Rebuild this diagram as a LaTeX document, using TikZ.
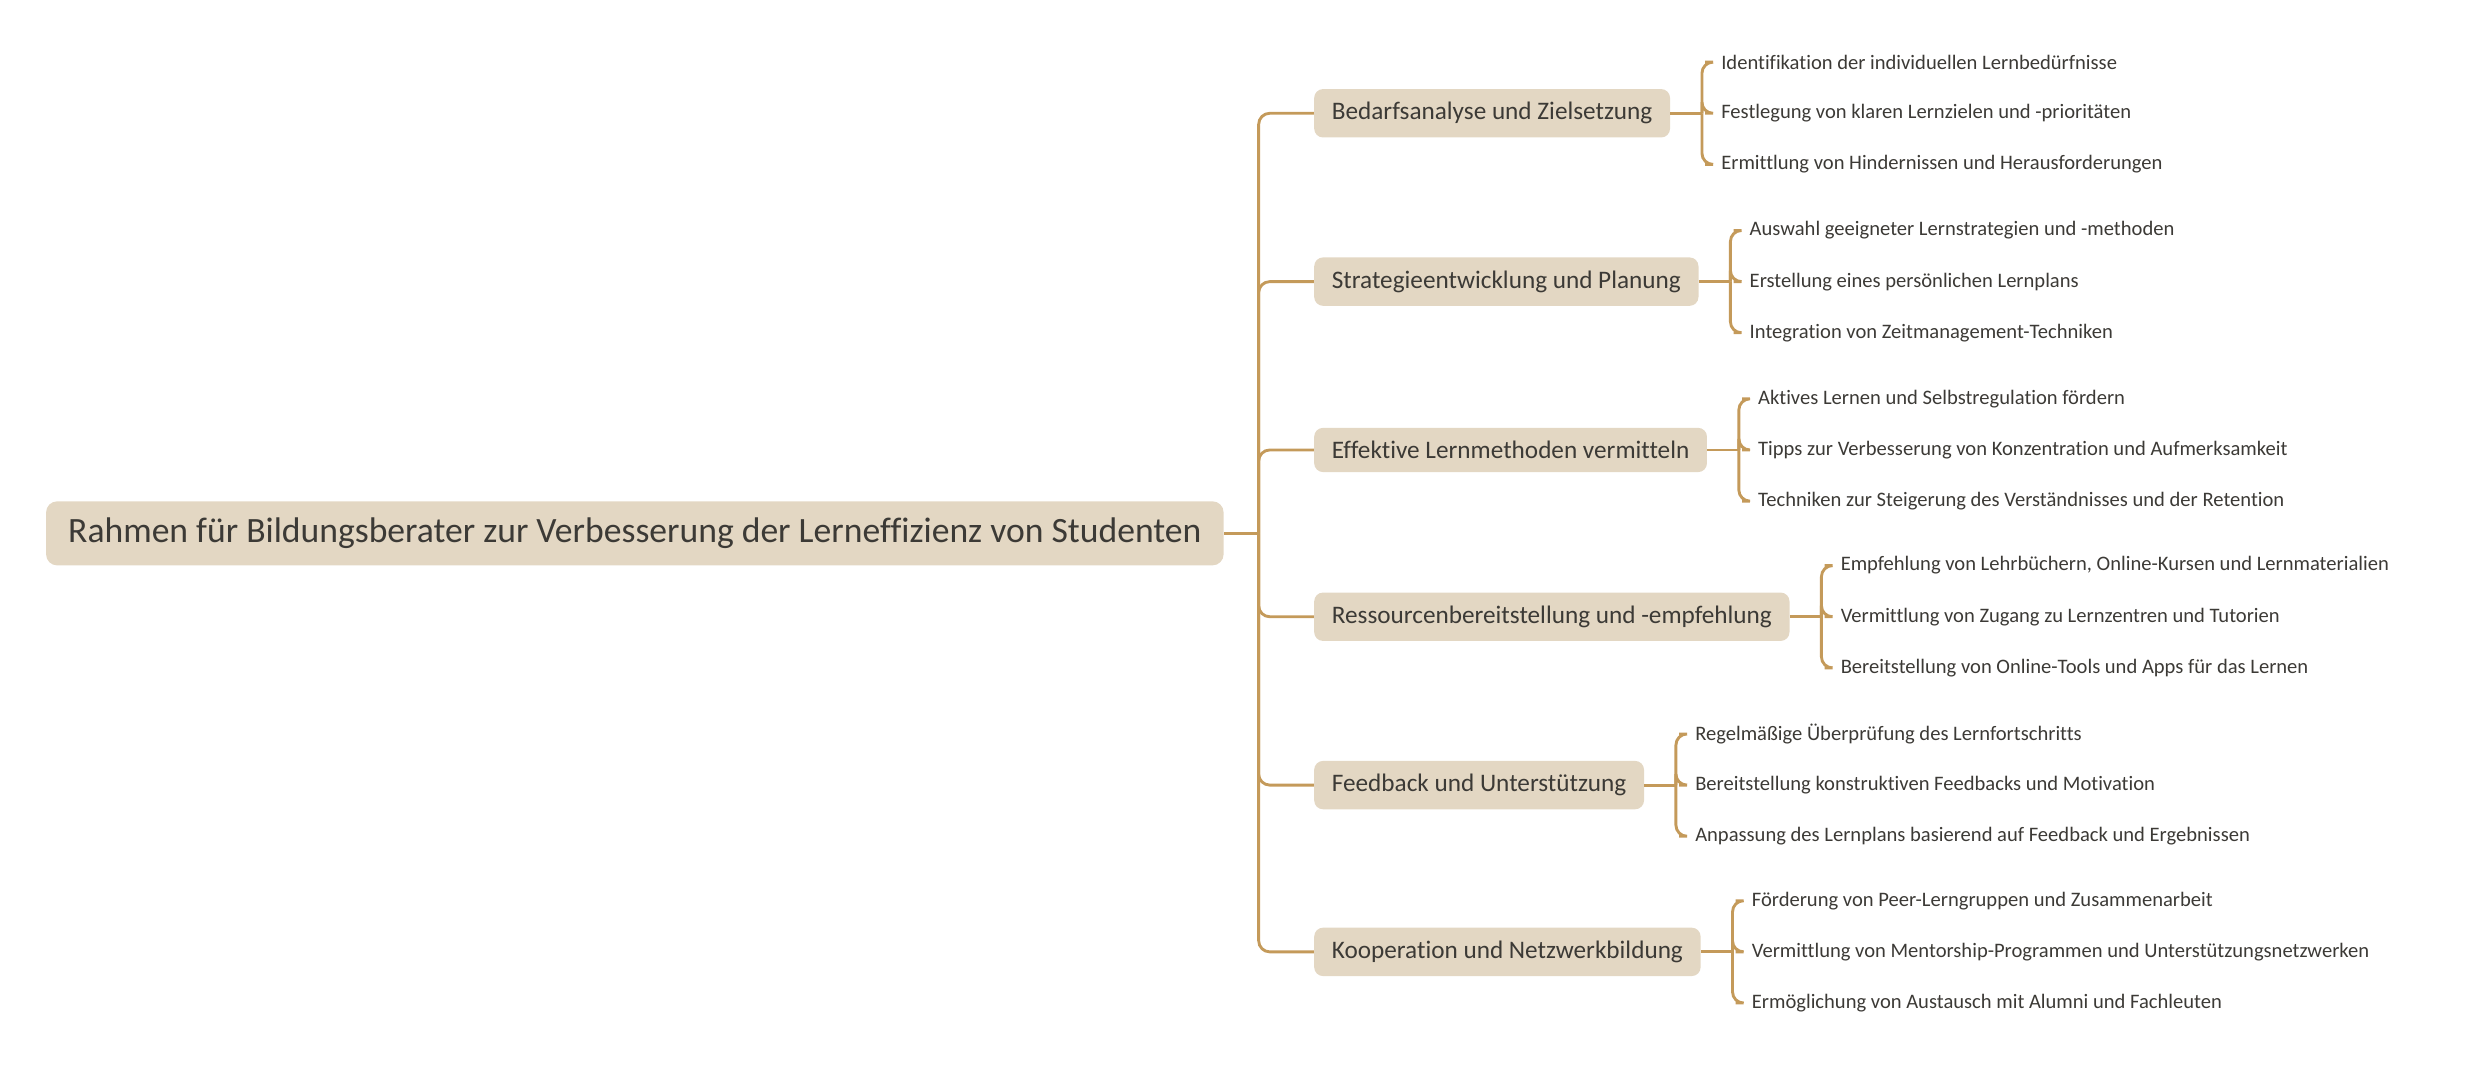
\documentclass[tikz,border=0pt]{standalone}
\usepackage{fontspec}
\setmainfont{Carlito}[Contextuals=NoAlternate,Ligatures=NoCommon]
\usetikzlibrary{positioning}
\definecolor{boxfill}{HTML}{E3D7C3}
\definecolor{linkcol}{HTML}{C49A5A}
\definecolor{txt}{HTML}{3C3A36}
\begin{document}
\begin{tikzpicture}
[x=0.025cm,y=-0.025cm,
 rootbox/.style={fill=boxfill,rounded corners=5pt,text=txt,inner xsep=10pt,inner ysep=7.5pt,font=\fontsize{16.1}{19}\selectfont},
 branch/.style={fill=boxfill,rounded corners=4pt,text=txt,inner xsep=8pt,inner ysep=6pt,anchor=west,font=\fontsize{11.4}{13}\selectfont},
 leaf/.style={text=txt,anchor=west,inner sep=0pt,font=\fontsize{9.3}{11}\selectfont},
 link/.style={draw=linkcol,line width=1.3pt,rounded corners=5pt}]
\useasboundingbox (0,0) rectangle (1568,689);

\node[rootbox,anchor=west] (root) at (29,339) {Rahmen für Bildungsberater zur Verbesserung der Lerneffizienz von Studenten};
\coordinate (hub) at (800,339);

\node[branch] (b1) at (835,72) {Bedarfsanalyse und Zielsetzung};
\node[branch] (b2) at (835,179) {Strategieentwicklung und Planung};
\node[branch] (b3) at (835,286) {Effektive Lernmethoden vermitteln};
\node[branch] (b4) at (835,392) {Ressourcenbereitstellung und -empfehlung};
\node[branch] (b5) at (835,499) {Feedback und Unterstützung};
\node[branch] (b6) at (835,605) {Kooperation und Netzwerkbildung};

\node[leaf] (l11) at ([xshift=32*0.025cm,yshift=32.5*0.025cm]b1.east) {Identifikation der individuellen Lernbedürfnisse};
\node[leaf] (l12) at ([xshift=32*0.025cm]b1.east) {Festlegung von klaren Lernzielen und -prioritäten};
\node[leaf] (l13) at ([xshift=32*0.025cm,yshift=-32.5*0.025cm]b1.east) {Ermittlung von Hindernissen und Herausforderungen};
\node[leaf] (l21) at ([xshift=32*0.025cm,yshift=32.5*0.025cm]b2.east) {Auswahl geeigneter Lernstrategien und -methoden};
\node[leaf] (l22) at ([xshift=32*0.025cm]b2.east) {Erstellung eines persönlichen Lernplans};
\node[leaf] (l23) at ([xshift=32*0.025cm,yshift=-32.5*0.025cm]b2.east) {Integration von Zeitmanagement-Techniken};
\node[leaf] (l31) at ([xshift=32*0.025cm,yshift=32.5*0.025cm]b3.east) {Aktives Lernen und Selbstregulation fördern};
\node[leaf] (l32) at ([xshift=32*0.025cm]b3.east) {Tipps zur Verbesserung von Konzentration und Aufmerksamkeit};
\node[leaf] (l33) at ([xshift=32*0.025cm,yshift=-32.5*0.025cm]b3.east) {Techniken zur Steigerung des Verständnisses und der Retention};
\node[leaf] (l41) at ([xshift=32*0.025cm,yshift=32.5*0.025cm]b4.east) {Empfehlung von Lehrbüchern, Online-Kursen und Lernmaterialien};
\node[leaf] (l42) at ([xshift=32*0.025cm]b4.east) {Vermittlung von Zugang zu Lernzentren und Tutorien};
\node[leaf] (l43) at ([xshift=32*0.025cm,yshift=-32.5*0.025cm]b4.east) {Bereitstellung von Online-Tools und Apps für das Lernen};
\node[leaf] (l51) at ([xshift=32*0.025cm,yshift=32.5*0.025cm]b5.east) {Regelmäßige Überprüfung des Lernfortschritts};
\node[leaf] (l52) at ([xshift=32*0.025cm]b5.east) {Bereitstellung konstruktiven Feedbacks und Motivation};
\node[leaf] (l53) at ([xshift=32*0.025cm,yshift=-32.5*0.025cm]b5.east) {Anpassung des Lernplans basierend auf Feedback und Ergebnissen};
\node[leaf] (l61) at ([xshift=32*0.025cm,yshift=32.5*0.025cm]b6.east) {Förderung von Peer-Lerngruppen und Zusammenarbeit};
\node[leaf] (l62) at ([xshift=32*0.025cm]b6.east) {Vermittlung von Mentorship-Programmen und Unterstützungsnetzwerken};
\node[leaf] (l63) at ([xshift=32*0.025cm,yshift=-32.5*0.025cm]b6.east) {Ermöglichung von Austausch mit Alumni und Fachleuten};

% root to branches
\draw[link] (root.east) -- (hub);
\foreach \b in {b1,b2,b3,b4,b5,b6}
  \draw[link] (hub) |- (\b.west);

% branches to leaves
\foreach \b in {1,...,6} {
  \coordinate (j\b) at ([xshift=20*0.025cm]b\b.east);
  \draw[link] (b\b.east) -- (j\b);
  \foreach \l in {1,2,3}
    \draw[link] (j\b) |- ([xshift=-10*0.025cm]l\b\l.west);
}
\end{tikzpicture}
\end{document}
